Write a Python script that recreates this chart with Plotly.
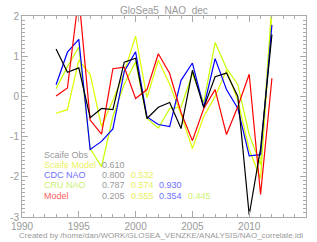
import plotly.graph_objects as go

years = list(range(1993, 2013))

scaife_obs = [1.18, 0.60, 0.71, -0.53, -0.30, -0.33, 0.85, 0.95, -0.55, -0.27,
              -0.15, -0.80, 0.65, -0.28, 0.49, 0.58, 0.00, -2.95, -1.30, 1.54]
scaife_model = [-0.42, -0.33, 0.90, 0.55, -0.75, -0.10, 0.60, 1.50, -0.03, 0.90,
                0.30, -0.45, -1.30, -0.50, 0.00, 0.65, -0.10, -1.32, -2.04, 2.10]
cdc_nao = [0.29, 1.10, 1.42, -1.32, -1.12, -0.81, 0.62, 1.11, -0.51, -0.70,
           -0.75, 0.40, 0.83, -0.27, 0.94, 0.17, -0.30, -1.48, -1.45, 1.78]
cru_nao = [0.19, 0.74, 1.23, -1.30, -1.75, -0.50, 0.30, 0.86, -0.55, -0.79,
           -0.30, -0.27, 0.57, -0.15, 1.34, 0.70, 0.29, -0.95, -1.70, 2.30]
model = [0.01, 0.21, 2.50, -0.59, -0.94, 0.69, 0.73, -0.05, 0.17, 1.06,
         0.57, -0.40, -1.10, -0.30, 0.17, -0.95, -0.25, 0.55, -2.44, 0.45]

series_names = ["Scaife Obs", "Scaife Model", "CDC NAO", "CRU NAO", "Model"]
line_colors = ["#000000", "#ddff00", "#0000ff", "#c4ff00", "#ff0000"]
text_colors = ["#999999", "#e8f060", "#7070ff", "#ccf070", "#ff6060"]

# correlation table: row i, column j (j < i)
corr_rows = [
    [],
    ["0.610"],
    ["0.800", "0.532"],
    ["0.787", "0.574", "0.930"],
    ["0.205", "0.555", "0.354", "0.445"],
]

x_ticks = [1990, 1995, 2000, 2005, 2010, 2015]
y_ticks = [-3, -2, -1, 0, 1, 2]
y_ticktext = ["-3", "-2", "-1", "0", "1", "2"]

title = "GloSea5_NAO_dec"
caption = "Created by /home/dan/WORK/GLOSEA_VENZKE/ANALYSIS/NAO_correlate.idl"

W, H = 317, 242
L, R, T, B = 15, 10, 11, 24
PW, PH = W - L - R, H - T - B

def px(x):
    return (x - L) / PW

def py(y):
    return (H - B - y) / PH

fig = go.Figure()
data = [scaife_obs, scaife_model, cdc_nao, cru_nao, model]
order = [3, 1, 2, 4, 0]
for i in order:
    fig.add_trace(go.Scatter(x=years, y=data[i], mode="lines",
                             line=dict(color=line_colors[i], width=1.2),
                             name=series_names[i], showlegend=False))

gray = "#999999"
font = "Liberation Sans, Arial, sans-serif"
axis_common = dict(showline=True, linecolor="#aaaaaa", linewidth=1, mirror="ticks",
                   ticks="inside", ticklen=6, tickcolor="#aaaaaa", showgrid=False,
                   zeroline=False, tickfont=dict(family=font, size=10, color=gray))
fig.update_xaxes(range=[1990, 2015], tickvals=x_ticks,
                 minor=dict(ticks="inside", ticklen=3, dtick=1, tickcolor="#aaaaaa"),
                 **axis_common)
fig.update_yaxes(range=[-3, 2], tickvals=y_ticks, ticktext=y_ticktext,
                 minor=dict(ticks="inside", ticklen=3, dtick=0.1, tickcolor="#aaaaaa"),
                 **axis_common)

ann = []
ann.append(dict(x=0.5, y=py(5), xref="paper", yref="paper", text=title, showarrow=False,
                xanchor="center", yanchor="middle", font=dict(family=font, size=10, color=gray)))
ann.append(dict(x=px(158), y=py(237), xref="paper", yref="paper", text=caption, showarrow=False,
                xanchor="center", yanchor="middle", font=dict(family=font, size=8, color=gray)))

row_y = [154, 164.5, 175, 185.5, 196]
col_x = [95, 125, 154, 184]
for i, name in enumerate(series_names):
    ann.append(dict(x=px(36), y=py(row_y[i]), xref="paper", yref="paper", text=name,
                    showarrow=False, xanchor="left", yanchor="middle",
                    font=dict(family=font, size=9, color=text_colors[i])))
    for j, val in enumerate(corr_rows[i]):
        ann.append(dict(x=px(col_x[j]), y=py(row_y[i]), xref="paper", yref="paper", text=val,
                        showarrow=False, xanchor="left", yanchor="middle",
                        font=dict(family=font, size=9, color=text_colors[j])))

fig.update_layout(width=W, height=H, margin=dict(l=L, r=R, t=T, b=B, pad=0),
                  paper_bgcolor="white", plot_bgcolor="white", annotations=ann,
                  showlegend=False)

fig.write_html("out.html")
